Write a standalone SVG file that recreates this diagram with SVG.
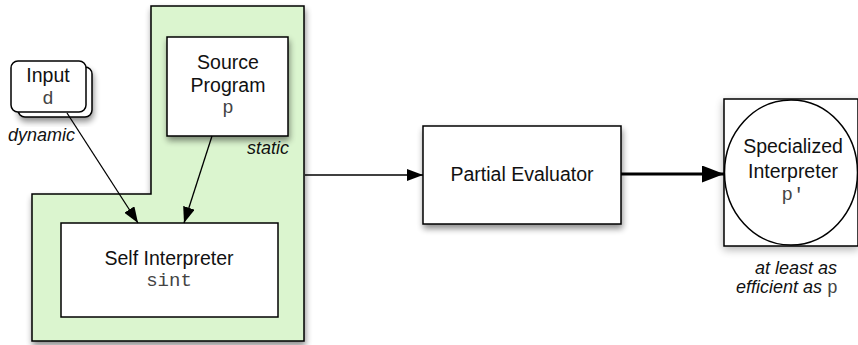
<svg xmlns="http://www.w3.org/2000/svg" width="858" height="345" viewBox="0 0 858 345">
<defs>
<filter id="sh" x="-20%" y="-20%" width="140%" height="140%">
<feGaussianBlur in="SourceAlpha" stdDeviation="3"/>
<feOffset dx="1" dy="4" result="b"/>
<feComponentTransfer><feFuncA type="linear" slope="0.45"/></feComponentTransfer>
<feMerge><feMergeNode/><feMergeNode in="SourceGraphic"/></feMerge>
</filter>
<filter id="glow" x="-20%" y="-20%" width="140%" height="140%">
<feGaussianBlur in="SourceAlpha" stdDeviation="4"/>
<feOffset dx="0" dy="3" result="b"/>
<feComponentTransfer><feFuncA type="linear" slope="0.3"/></feComponentTransfer>
<feMerge><feMergeNode/><feMergeNode in="SourceGraphic"/></feMerge>
</filter>
<marker id="ah" markerUnits="userSpaceOnUse" markerWidth="16" markerHeight="12" refX="16" refY="6" orient="auto">
<path d="M0,0 L16,6 L0,12 z" fill="#000"/>
</marker>
<marker id="ahb" markerUnits="userSpaceOnUse" markerWidth="22" markerHeight="17" refX="22" refY="8.5" orient="auto">
<path d="M0,0 L22,8.5 L0,17 z" fill="#000"/>
</marker>
</defs>
<style>
.box{fill:#fff;stroke:#000;stroke-width:1.5}
.t{font-family:"Liberation Sans",Arial,sans-serif;font-size:19.5px;fill:#111;text-anchor:middle}
.m{font-family:"Liberation Mono","Courier New",monospace;font-size:19px;fill:#444;text-anchor:middle}
.i{font-family:"Liberation Sans",Arial,sans-serif;font-size:18px;font-style:italic;fill:#111}
.c{fill:none;stroke:#000;stroke-width:1.3}
</style>

<g id="static-region">
<path d="M151,6 H304 V341 H32 V194 H151 Z" fill="#dbf5cf" stroke="#000" stroke-width="1.5" filter="url(#sh)"/>
<text class="i" x="289" y="154" text-anchor="end">static</text>
</g>

<g id="input">
<rect x="18" y="67" width="74" height="50" rx="7" class="box" filter="url(#sh)"/>
<rect x="11" y="61" width="75" height="51" rx="7" class="box"/>
<text class="t" x="48" y="82">Input</text>
<text class="m" x="48" y="104">d</text>
<text class="i" x="8" y="141">dynamic</text>
</g>

<g id="source-program">
<rect x="167" y="37" width="121" height="99" class="box" filter="url(#sh)"/>
<text class="t" x="228" y="69">Source</text>
<text class="t" x="228" y="92">Program</text>
<text class="m" x="228" y="113">p</text>
</g>

<g id="self-interpreter">
<rect x="61" y="223" width="217" height="94" class="box"/>
<text class="t" x="169" y="265">Self Interpreter</text>
<text class="m" x="169" y="286">sint</text>
</g>

<g id="partial-evaluator">
<rect x="423" y="126" width="198" height="98" class="box" filter="url(#sh)"/>
<text class="t" x="522" y="181">Partial Evaluator</text>
</g>

<g id="specialized-interpreter">
<rect x="724" y="99" width="134" height="147" class="box" filter="url(#glow)"/>
<ellipse cx="791" cy="172.5" rx="66.5" ry="72.5" fill="#fff" stroke="#000" stroke-width="1.5"/>
<text class="t" x="793" y="153">Specialized</text>
<text class="t" x="793" y="178">Interpreter</text>
<text class="m" x="793" y="200">p'</text>
<text class="i" x="796" y="274" text-anchor="middle" font-size="17px">at least as</text>
<text class="i" x="787" y="293" text-anchor="middle" font-size="17px">efficient as <tspan font-family="Liberation Mono,Courier New,monospace" font-style="normal" fill="#444" font-size="18px">p</tspan></text>
</g>

<g id="connectors">
<line x1="67" y1="113" x2="138" y2="223" class="c" marker-end="url(#ah)"/>
<line x1="212" y1="136" x2="184" y2="223" class="c" marker-end="url(#ah)"/>
<line x1="305" y1="175" x2="423" y2="175" class="c" marker-end="url(#ah)"/>
<line x1="621" y1="174" x2="724" y2="174" fill="none" stroke="#000" stroke-width="3" marker-end="url(#ahb)"/>
</g>
</svg>
